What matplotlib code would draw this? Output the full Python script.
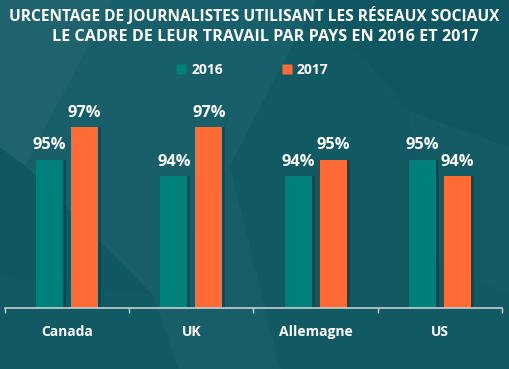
import numpy as np
import matplotlib
matplotlib.use("Agg")
import matplotlib.pyplot as plt
from matplotlib.lines import Line2D
from matplotlib.patches import Polygon

countries = ["Canada", "UK", "Allemagne", "US"]
years = ["2016", "2017"]
pct_2016 = [95, 94, 94, 95]
pct_2017 = [97, 97, 95, 94]

title_1 = "URCENTAGE DE JOURNALISTES UTILISANT LES RÉSEAUX SOCIAUX"
title_2 = "LE CADRE DE LEUR TRAVAIL PAR PAYS EN 2016 ET 2017"

bg = "#115963"
teal = "#00807a"
orange = "#ff6b35"

plt.rcParams['font.family'] = ['Open Sans', 'DejaVu Sans']

fig = plt.figure(figsize=(5.10, 3.69), dpi=100)
fig.patch.set_facecolor(bg)

# faint low-poly background
shapes = [
    ([(0, 1), (0.22, 1), (0.05, 0.55), (0, 0.6)], "#2c6e78", 0.5),
    ([(0.22, 1), (0.62, 1), (0.45, 0.55)], "#1d6570", 0.55),
    ([(0.05, 0.55), (0.22, 1), (0.45, 0.55), (0.3, 0.2)], "#236a74", 0.4),
    ([(0.62, 1), (1, 1), (1, 0.6), (0.8, 0.7)], "#0c5560", 0.6),
    ([(0.3, 0.2), (0.45, 0.55), (0.55, 0.0), (0.35, 0.0)], "#2a6c76", 0.3),
    ([(0, 0.6), (0.05, 0.55), (0.3, 0.2), (0, 0.25)], "#0f5761", 0.5),
    ([(0.8, 0.7), (1, 0.6), (1, 0.2), (0.85, 0.3)], "#175f69", 0.45),
]
for pts, c, a in shapes:
    fig.patches.append(Polygon(pts, closed=True, transform=fig.transFigure,
                               facecolor=c, edgecolor="none", alpha=a, zorder=-5))

ax = fig.add_axes([5 / 510, 0.1653, 497 / 510, 0.5576])
ax.set_facecolor("none")
ax.set_zorder(2)

x = np.arange(len(countries))
w = 0.217
off = 0.141

# shadows
ax.bar(x - off + 0.025, pct_2016, w, color="#06363c", alpha=0.45, zorder=1)
ax.bar(x + off + 0.025, pct_2017, w, color="#06363c", alpha=0.45, zorder=1)
ax.bar(x - off, pct_2016, w, color=teal, zorder=2)
ax.bar(x + off, pct_2017, w, color=orange, zorder=2)

for xs, vals in [(x - off, pct_2016), (x + off, pct_2017)]:
    for xi, v in zip(xs, vals):
        ax.annotate(f"{v}%", (xi, v), xytext=(0, 7.5), textcoords="offset points",
                    ha="center", va="baseline", color="white",
                    fontsize=11.8, fontweight="bold")

ax.set_xlim(-0.5, len(countries) - 0.5)
ax.set_ylim(86, 98.5)
ax.set_yticks([])
ax.set_xticks(x)
ax.set_xticklabels(countries, color="white", fontsize=10, fontweight="bold")
ax.set_xticks(np.arange(len(countries) + 1) - 0.5, minor=True)
ax.tick_params(axis="x", which="major", length=0, pad=12)
ax.tick_params(axis="x", which="minor", length=3.5, color="#c8d0d0", width=1)
for s in ["top", "right", "left"]:
    ax.spines[s].set_visible(False)
ax.spines["bottom"].set_color("#c8d0d0")
ax.spines["bottom"].set_linewidth(1.2)

fig.text(254 / 510, 1 - 16 / 369, title_1, ha="center", va="center",
         color="white", fontsize=11.2, fontweight="bold")
fig.text(265.5 / 510, 1 - 37 / 369, title_2, ha="center", va="center",
         color="white", fontsize=11.6, fontweight="bold")

handles = [Line2D([], [], marker="s", linestyle="none", markersize=7,
                  markerfacecolor=c, markeredgecolor="none") for c in (teal, orange)]
leg = fig.legend(handles, years, loc="center", bbox_to_anchor=(252 / 510, 1 - 70 / 369),
                 ncol=2, frameon=False, handlelength=0.8, handletextpad=0.3,
                 columnspacing=4.2, prop={"weight": "bold", "size": 10})
for t in leg.get_texts():
    t.set_color("white")

fig.savefig("out.png", dpi=100, facecolor=fig.get_facecolor())
